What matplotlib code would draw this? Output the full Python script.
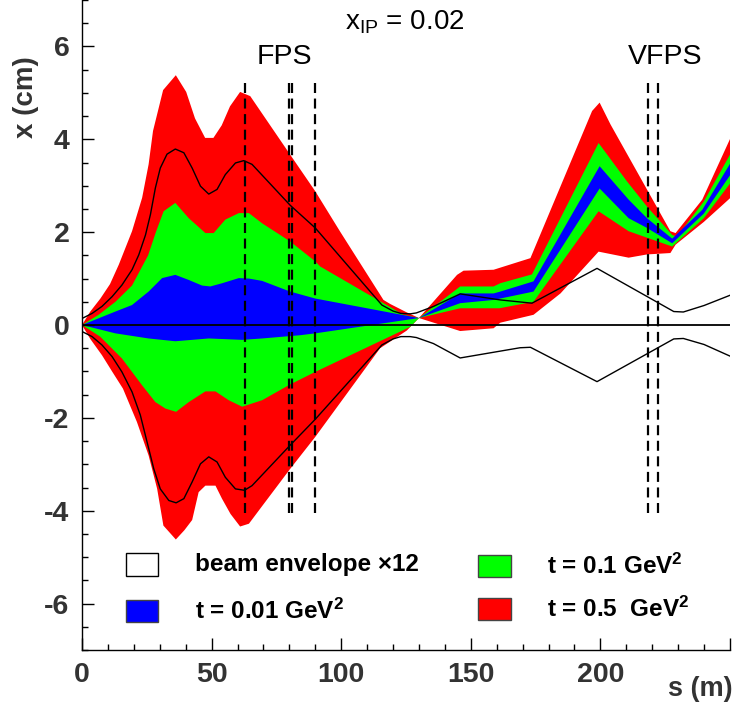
import numpy as np
import matplotlib
matplotlib.use("Agg")
import matplotlib.pyplot as plt
from matplotlib.patches import Rectangle
from matplotlib.ticker import MultipleLocator

plt.rcParams['font.family'] = ['Liberation Sans', 'DejaVu Sans']
plt.rcParams['mathtext.fontset'] = 'custom'
plt.rcParams['mathtext.rm'] = 'Liberation Sans'
plt.rcParams['mathtext.bf'] = 'Liberation Sans:bold'
plt.rcParams['mathtext.it'] = 'Liberation Sans:italic'

# ---------------- data (s in m, x in cm) ----------------
red_up_s = [0, 3.2, 7.1, 10.8, 14.2, 19.3, 23.2, 25.7, 27.4, 31.3, 36.2, 40.2, 43.6, 47.5, 50.7, 53.9,
            57.1, 61, 64.9, 80.3, 90, 99.6, 116.3, 119, 125, 130, 144.7, 147.2, 158.8, 173, 196.8, 199.7,
            203.9, 227, 229, 239.3, 250.2]
red_up_x = [0, 0.29, 0.57, 0.88, 1.30, 2.02, 2.74, 3.46, 4.18, 5.06, 5.38, 5.02, 4.45, 4.03, 4.03, 4.3,
            4.71, 5.02, 4.93, 3.67, 2.88, 2.01, 0.54, 0.45, 0.28, 0.15, 1.08, 1.17, 1.19, 1.44, 4.61, 4.79,
            4.32, 2.02, 1.98, 2.70, 4.03]
red_lo_s = [0, 3.2, 7.7, 11.6, 15.8, 21.2, 25.7, 29, 31.4, 36.2, 39.5, 42.5, 45, 47.6, 51.5, 54, 57.3,
            61, 64.4, 69.5, 80.3, 90, 115, 125.3, 130, 145.9, 158.8, 161.4, 174.2, 184.6, 199.3, 210.9,
            218, 227, 229, 239.9, 250.2]
red_lo_x = [0, -0.30, -0.65, -1.0, -1.37, -2.09, -2.81, -3.53, -4.32, -4.62, -4.42, -4.2, -3.6, -3.46,
            -3.46, -3.74, -4.07, -4.34, -4.28, -3.9, -3.10, -2.41, -0.5, -0.12, 0.15, -0.13, -0.07, 0.05,
            0.22, 0.68, 1.58, 1.45, 1.52, 1.55, 1.73, 2.22, 2.74]

green_up_s = [0, 6.4, 12.9, 19.3, 25.5, 28.5, 31.5, 36, 41.2, 47.6, 50.8, 55.3, 60.5, 64.4, 69.5, 80.3,
              90, 91.9, 124, 130, 145.9, 158.8, 161.4, 173.6, 199.3, 210.3, 218, 227.7, 229.5, 239.9, 250.2]
green_up_x = [0, 0.22, 0.5, 0.85, 1.5, 2.0, 2.45, 2.63, 2.30, 1.98, 1.98, 2.27, 2.41, 2.41, 2.19, 1.8,
              1.37, 1.26, 0.22, 0.15, 0.83, 0.83, 0.9, 1.09, 3.92, 3.09, 2.55, 1.94, 1.9, 2.66, 3.69]
green_lo_s = [0, 7, 15.4, 23.2, 28.3, 32.2, 36.3, 41.2, 47.6, 51.5, 56.6, 61.8, 69.5, 80.3, 90, 126.6,
              130, 145.9, 161, 174.2, 199.3, 210.9, 218, 227.7, 239.9, 250.2]
green_lo_x = [0, -0.25, -0.72, -1.30, -1.66, -1.80, -1.87, -1.66, -1.43, -1.43, -1.62, -1.76, -1.62,
              -1.28, -1.01, -0.04, 0.15, 0.36, 0.36, 0.50, 2.45, 2.02, 1.88, 1.69, 2.30, 3.06]

blue_up_s = [0, 12.9, 19.3, 25.7, 30.9, 36, 41.2, 46.3, 49.5, 54.1, 60.5, 64.4, 69.5, 80.3, 90, 130,
             145.9, 158.8, 161.4, 174.2, 199.7, 210.9, 218, 227.7, 239.3, 250.2]
blue_up_x = [0, 0.29, 0.43, 0.72, 1.01, 1.08, 0.97, 0.85, 0.83, 0.90, 1.01, 1.0, 0.95, 0.72, 0.57, 0.15,
             0.68, 0.68, 0.72, 0.94, 3.42, 2.70, 2.30, 1.86, 2.48, 3.49]
blue_lo_s = [0, 12.9, 25.7, 36, 48.9, 61.8, 69.5, 84.2, 90, 130, 145.9, 158.8, 174.2, 199.7, 210.9, 218,
             227.7, 239.9, 250.2]
blue_lo_x = [0, -0.18, -0.29, -0.35, -0.29, -0.32, -0.29, -0.22, -0.18, 0.15, 0.47, 0.54, 0.72, 2.94,
             2.30, 2.09, 1.76, 2.40, 3.24]

beam_up_s = [0, 3.9, 7.7, 11.6, 15.4, 19.3, 21.9, 24.5, 26.4, 28.3, 30.2, 32.8, 36, 39.3, 42.5, 45.7,
             48.9, 52.1, 55.3, 59.2, 62.4, 65.6, 80.3, 90, 115.7, 120, 123, 126.6, 129, 135.6, 145.9,
             161.4, 173.6, 198.7, 228.3, 232, 240, 250]
beam_up_x = [0.14, 0.25, 0.40, 0.61, 0.86, 1.19, 1.51, 1.94, 2.38, 2.95, 3.38, 3.68, 3.79, 3.71, 3.38,
             2.99, 2.82, 2.92, 3.24, 3.49, 3.54, 3.46, 2.58, 2.09, 0.43, 0.30, 0.25, 0.24, 0.26, 0.40,
             0.67, 0.54, 0.47, 1.22, 0.29, 0.28, 0.42, 0.64]
beam_lo_s = [0, 3.9, 7.7, 11.6, 15.4, 19.3, 22.5, 25.1, 27.7, 30.2, 33.5, 36.3, 39.3, 42.5, 45.7, 48.9,
             52.1, 55.3, 59.2, 62.7, 65.6, 80.3, 90, 115.7, 120, 123, 126.6, 129, 135.6, 145.9, 169, 173,
             198.7, 228.3, 232, 240, 250]
beam_lo_x = [-0.14, -0.25, -0.43, -0.68, -1.01, -1.44, -1.94, -2.52, -3.10, -3.53, -3.78, -3.83, -3.74,
             -3.38, -2.99, -2.84, -2.95, -3.28, -3.53, -3.56, -3.46, -2.59, -2.03, -0.43, -0.30, -0.25,
             -0.25, -0.27, -0.40, -0.71, -0.49, -0.48, -1.22, -0.30, -0.29, -0.42, -0.67]

fps_s = [63, 79.7, 81.0, 90]
vfps_s = [218.3, 222.1]
det_y = (-4.05, 5.25)

xticks = [0, 50, 100, 150, 200, 250]
xticklabels = ['0', '50', '100', '150', '200', '']
yticks = [-6, -4, -2, 0, 2, 4, 6]

# ---------------- figure ----------------
W, H = 738, 711
fig = plt.figure(figsize=(W / 100, H / 100), dpi=100)
ax = fig.add_axes([82 / W, 61 / H, 648 / W, 650 / H])
ax.set_xlim(0, 250)
ax.set_ylim(-7, 7)


def band(su, xu, sl, xl, color):
    ax.fill(np.concatenate([su, sl[::-1]]), np.concatenate([xu, xl[::-1]]),
            color=color, lw=0, zorder=1)


band(np.array(red_up_s), np.array(red_up_x), np.array(red_lo_s), np.array(red_lo_x), '#ff0000')
band(np.array(green_up_s), np.array(green_up_x), np.array(green_lo_s), np.array(green_lo_x), '#00ff00')
band(np.array(blue_up_s), np.array(blue_up_x), np.array(blue_lo_s), np.array(blue_lo_x), '#0000ff')

ax.plot(beam_up_s, beam_up_x, color='black', lw=1.0, zorder=3)
ax.plot(beam_lo_s, beam_lo_x, color='black', lw=1.0, zorder=3)
ax.axhline(0, color='black', lw=1.3, zorder=3)

for s in fps_s + vfps_s:
    ax.plot([s, s], det_y, color='black', lw=1.6, ls=(0, (4.5, 2.5)), zorder=4)

ax.text(78.2, 5.62, 'FPS', fontsize=20.5, ha='center', va='baseline', zorder=5)
ax.text(225, 5.62, 'VFPS', fontsize=20.5, ha='center', va='baseline', zorder=5)
fig.text(405 / W, 1 - 30 / H, r'$\mathregular{x_{IP}}$ = 0.02', fontsize=20, ha='center',
         va='baseline')

# axes styling
for sp in ['top', 'right']:
    ax.spines[sp].set_visible(False)
for sp in ['left', 'bottom']:
    ax.spines[sp].set_linewidth(1.0)
ax.set_xticks(xticks)
ax.set_xticklabels(xticklabels)
ax.set_yticks(yticks)
ax.set_yticklabels([str(v) for v in yticks])
ax.xaxis.set_minor_locator(MultipleLocator(10))
ax.yaxis.set_minor_locator(MultipleLocator(0.5))
ax.tick_params(which='both', direction='in', top=False, right=False, width=1.0)
ax.tick_params(which='major', length=8.5)
ax.tick_params(which='minor', length=4.3)
ax.tick_params(axis='y', which='major', pad=9, labelsize=20.5, labelcolor='#333333')
ax.tick_params(axis='x', which='major', pad=9, labelsize=20.5, labelcolor='#333333')
for lab in ax.get_xticklabels() + ax.get_yticklabels():
    lab.set_fontweight('bold')

fig.text(26 / W, 1 - 97 / H, 'x (cm)', rotation=90, fontsize=20, fontweight='bold',
         color='#333333', ha='center', va='center')
fig.text(733 / W, 1 - 689 / H, 's (m)', fontsize=19.5, fontweight='bold', color='#333333',
         ha='right', va='center')

# legend (manual)
leg_items = [
    ((126, 553.3), 'white', 'beam envelope \u00d712', (195, 564)),
    ((126, 600.0), '#0000ff', r't = 0.01 GeV$^{\mathbf{2}}$', (195, 611)),
    ((478.3, 555.0), '#00ff00', r't = 0.1 GeV$^{\mathbf{2}}$', (546.7, 566)),
    ((478.3, 597.7), '#ff0000', r't = 0.5  GeV$^{\mathbf{2}}$', (546.7, 609)),
]
for (x0, y0), col, txt, (tx, ty) in leg_items:
    ec = 'black' if col == 'white' else '#444444'
    fig.patches.append(Rectangle((x0 / W, 1 - (y0 + 22.4) / H), 32.3 / W, 22.4 / H,
                                 transform=fig.transFigure, facecolor=col, edgecolor=ec, lw=1.0))
    fig.text(tx / W, 1 - ty / H, txt, fontsize=17.5, fontweight='bold', ha='left', va='center')

fig.savefig('out.png', dpi=100)
